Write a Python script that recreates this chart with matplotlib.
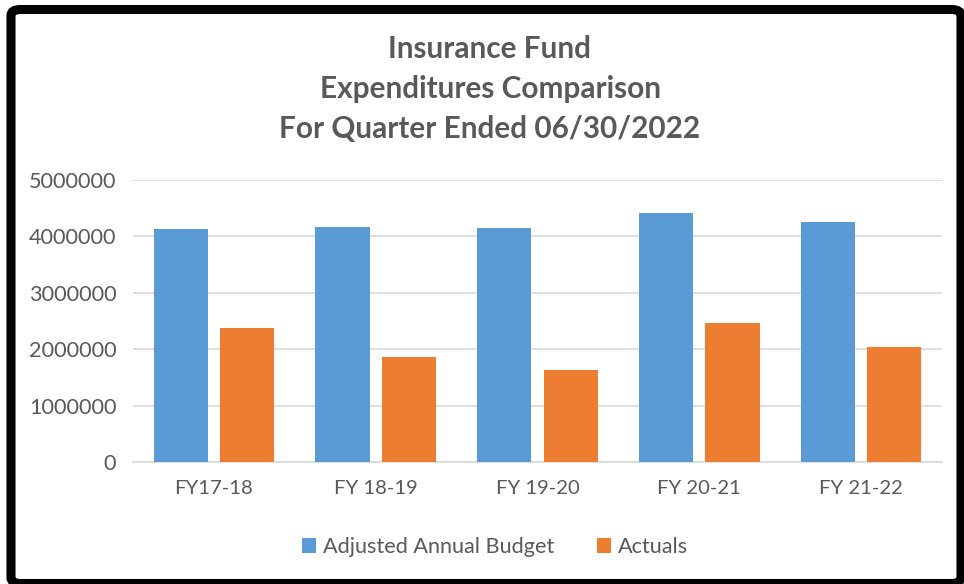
import numpy as np
import matplotlib.pyplot as plt
from matplotlib.patches import FancyBboxPatch

categories = ['FY17-18', 'FY 18-19', 'FY 19-20', 'FY 20-21', 'FY 21-22']
budget = [4130000, 4170000, 4150000, 4410000, 4260000]
actuals = [2380000, 1860000, 1640000, 2460000, 2040000]

plt.rcParams['font.family'] = ['Lato', 'DejaVu Sans']
gray = '#595959'

fig = plt.figure(figsize=(9.64, 5.84), dpi=100)
ax = fig.add_axes([133/964, 1-462/584, (942-133)/964, (462-180)/584])

x = np.arange(len(categories))
w = 0.335
ax.bar(x - 0.205, budget, w, color='#5b9bd5', label='Adjusted Annual Budget', zorder=3)
ax.bar(x + 0.205, actuals, w, color='#ed7d31', label='Actuals', zorder=3)

ax.set_xlim(-0.5, len(categories) - 0.5)
ax.set_ylim(0, 5000000)
ax.set_yticks(np.arange(0, 5000001, 1000000))
ax.set_yticklabels([str(v) for v in range(0, 5000001, 1000000)])
ax.set_xticks(x)
ax.set_xticklabels(categories)
ax.yaxis.grid(True, color='#d9d9d9', linewidth=1.2, zorder=0)
for s in ['top', 'right', 'left']:
    ax.spines[s].set_visible(False)
ax.spines['bottom'].set_color('#d9d9d9')
ax.spines['bottom'].set_linewidth(1.2)
ax.tick_params(length=0, colors=gray)
ax.tick_params(axis='y', labelsize=15.6, pad=12)
ax.tick_params(axis='x', labelsize=14.6, pad=13)

fig.text(490/964, 1-89/584, 'Insurance Fund\nExpenditures Comparison\nFor Quarter Ended 06/30/2022',
         ha='center', va='center', fontsize=21.4, fontweight='bold', color=gray, linespacing=1.53)

leg = fig.legend(loc='center', bbox_to_anchor=(495/964, 1-547/584), ncol=2, frameon=False,
                 fontsize=15.6, handlelength=0.65, handleheight=0.65, columnspacing=2.0, handletextpad=0.3)
for t in leg.get_texts():
    t.set_color(gray)

border = FancyBboxPatch((11/964, 0.5/584), (950/964), (1-9.5/584 - 0.5/584),
                        boxstyle='round,pad=0,rounding_size=0.01', transform=fig.transFigure,
                        fill=False, edgecolor='black', linewidth=6.5, clip_on=False)
fig.patches.append(border)

fig.savefig('out.png', dpi=100)
